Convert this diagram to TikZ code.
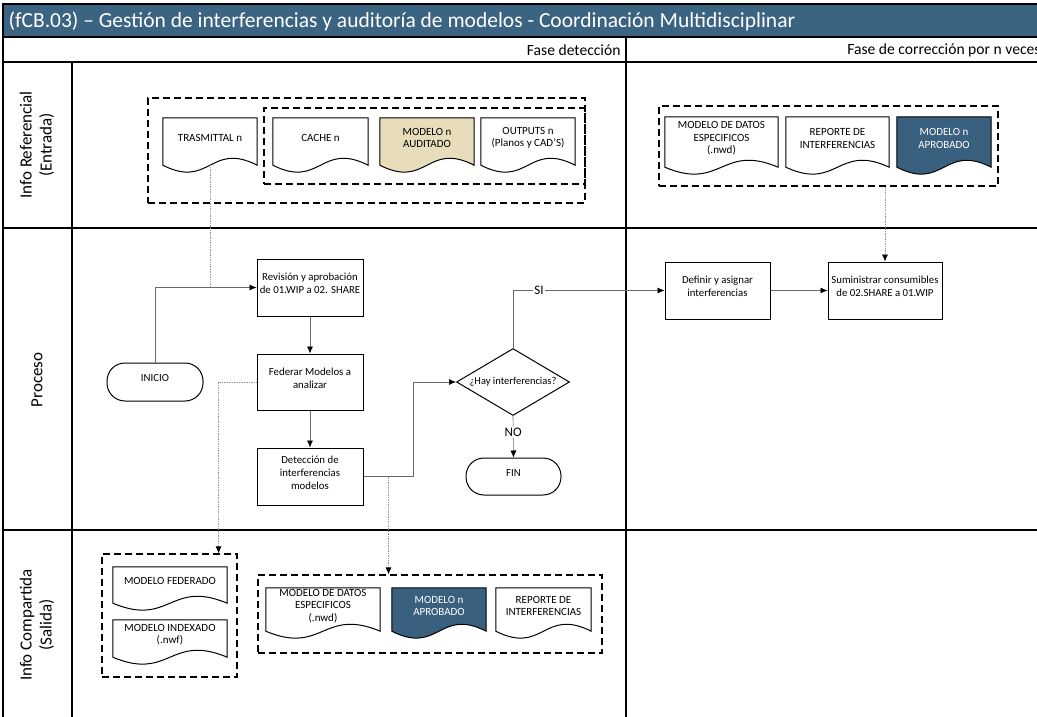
\documentclass[tikz,border=0pt]{standalone}
\usepackage{fontspec}
\setmainfont{Carlito}
\usetikzlibrary{positioning,arrows.meta,calc,shapes.geometric,fit,backgrounds}
\definecolor{titleblue}{RGB}{59,99,130}
\definecolor{docblue}{RGB}{58,96,128}
\definecolor{docsand}{RGB}{232,221,186}
\definecolor{wire}{RGB}{105,105,105}
\newcommand{\fs}[1]{\fontsize{#1}{#1pt}\selectfont}

\begin{document}
\begin{tikzpicture}[x=1pt,y=-1pt,>=Latex,
    frame/.style={line width=1.4pt},
    proc/.style={draw,line width=1pt,align=center,inner sep=0pt,font=\fontsize{10.8}{13}\selectfont},
    term/.style={proc,rounded corners=18pt},
    decn/.style={diamond,draw,line width=1pt,aspect=1.69,inner sep=0pt,minimum width=113pt,minimum height=67pt,font=\fontsize{10.5}{13}\selectfont},
    doc/.style={align=center,inner sep=0pt,font=\fontsize{11}{12.5}\selectfont},
    grp/.style={draw,line width=1.2pt,dash pattern=on 7pt off 4pt,inner sep=0pt},
    tip/.style={-{Latex[length=7pt,width=6pt,color=black]}},
    conn/.style={draw=wire,line width=0.6pt,tip},
    link/.style={draw=gray!80,line width=0.7pt,densely dotted},
    lbl/.style={fill=white,inner sep=1pt,font=\fontsize{13}{15}\selectfont},
    lane/.style={rotate=90,align=center,font=\fontsize{17}{20}\selectfont}]
  \useasboundingbox (0,0) rectangle (1037,717);

  % cabecera y marco
  \fill[titleblue] (3,4) rectangle (1045,37);
  \node[anchor=west,text=white,font=\fs{21.5}] (title) at (5,21)
    {(fCB.03) -- Gestión de interferencias y auditoría de modelos - Coordinación Multidisciplinar};
  \draw[frame] (3,4) rectangle (1045,725);
  \draw[frame] (3,37) -- (1045,37);
  \draw[line width=1.8pt] (3,62) -- (1045,62);
  \draw[frame] (72,62) -- (72,725);
  \draw[line width=1.1pt] (3,228) -- (1045,228);
  \draw[line width=1.1pt] (3,530) -- (1045,530);
  \draw[line width=1.8pt] (626,37) -- (626,725);
  \node[anchor=east,font=\fs{15.6}] (fdet) at (624,50) {Fase detección};
  \node[anchor=east,font=\fs{15.6}] (fcor) at (1044,50) {Fase de corrección por n veces};

  % carriles
  \node[lane] (lin) at (37,145) {Info Referencial\\(Entrada)};
  \node[lane] (lpro) at (37,380) {Proceso};
  \node[lane] (lout) at (37,625) {Info Compartida\\(Salida)};

  % info referencial
  \node[grp,fit={(148,98) (585,203)}] (gin1) {};
  \node[grp,fit={(264,108) (585,184)}] (gin1b) {};
  \node[doc,fit={(163,118) (257,165)}] (tras) {TRASMITTAL n};
  \node[doc,fit={(273,118) (368,165)}] (cache) {CACHE n};
  \node[doc,fit={(380,118) (474,165)}] (aud) {MODELO n\\AUDITADO};
  \node[doc,fit={(481,118) (575,165)}] (outp) {OUTPUTS n\\(Planos y CAD'S)};
  \node[grp,fit={(659,106) (998,186)}] (gin2) {};
  \node[doc,fit={(665,117) (778,167)}] (mde) {MODELO DE DATOS\\ESPECIFICOS\\(.nwd)};
  \node[doc,fit={(786,117) (889,167)}] (rep) {REPORTE DE\\INTERFERENCIAS};
  \node[doc,text=white,fit={(897,117) (991,167)}] (apr) {MODELO n\\APROBADO};

  % proceso
  \node[term,fit={(107,363) (203,401)}] (inicio) {INICIO};
  \node[proc,fit={(257,259) (363,316)}] (rev) {Revisión y aprobación\\de 01.WIP a 02. SHARE};
  \node[proc,fit={(257,354) (363,410)}] (fed) {Federar Modelos a\\analizar};
  \node[proc,fit={(257,448) (363,505)}] (det) {Detección de\\interferencias\\modelos};
  \node[decn] (dec) at (513,382) {¿Hay interferencias?};
  \node[term,fit={(466,458) (561,495)}] (fin) {FIN};
  \node[proc,fit={(665,262) (770,319)}] (defi) {Definir y asignar\\interferencias};
  \node[proc,fit={(828,262) (942,319)}] (sum) {Suministrar consumibles\\de 02.SHARE a 01.WIP};

  % info compartida
  \node[grp,fit={(102,554) (237,677)}] (gout1) {};
  \node[doc,fit={(113,567) (227,603)}] (fedm) {MODELO FEDERADO};
  \node[doc,fit={(113,620) (227,657)}] (idx) {MODELO INDEXADO\\(.nwf)};
  \node[grp,fit={(258,575) (602,653)}] (gout2) {};
  \node[doc,fit={(266,588) (380,631)}] (mdeo) {MODELO DE DATOS\\ESPECIFICOS\\(.nwd)};
  \node[doc,text=white,fit={(392,588) (486,631)}] (apro) {MODELO n\\APROBADO};
  \node[doc,fit={(496,588) (591,631)}] (repo) {REPORTE DE\\INTERFERENCIAS};

  % documentos
  \begin{scope}[on background layer]
    \foreach \nm/\cl in {tras/white,cache/white,aud/docsand,outp/white,mde/white,rep/white,apr/docblue,
        fedm/white,idx/white,mdeo/white,apro/docblue,repo/white}
      \draw[line width=1pt,fill=\cl] (\nm.south west) -- (\nm.north west) -- (\nm.north east) -- (\nm.south east)
        .. controls ($(\nm.south)+(0,-24)$) and ($(\nm.south)+(0,24)$) .. (\nm.south west) -- cycle;
  \end{scope}

  % conectores
  \draw[conn] (inicio.north) |- (rev.west);
  \draw[link] (tras.south) -- (tras.south |- rev.west);
  \draw[conn] (rev) -- (fed);
  \draw[conn] (fed) -- (det);
  \draw[conn] (det.east) -- ++(50,0) |- (dec.west);
  \coordinate (tap) at ($(det.east)+(25,0)$);
  \draw[link,tip] (tap) -- (tap |- gout2.north);
  \draw[link,tip] (fed.west) -| ([xshift=-19pt]gout1.north east);
  \draw[conn] (dec.north) |- node[pos=0.586,lbl] {SI} (defi.west);
  \draw[conn] (dec.south) -- node[pos=0.4,lbl] {NO} (fin.north);
  \draw[conn] (defi) -- (sum);
  \draw[link,tip] (gin2.south -| sum.north) -- (sum.north);
\end{tikzpicture}
\end{document}
